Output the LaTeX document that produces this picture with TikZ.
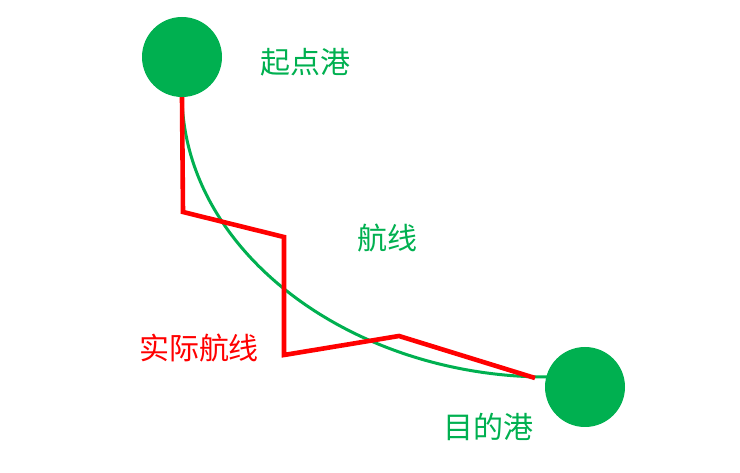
\documentclass[tikz,border=0pt]{standalone}
\usepackage{fontspec}
\usepackage{tikz}
\usetikzlibrary{arrows}
\newfontfamily\cjk{Noto Sans CJK SC}
\definecolor{port_green}{RGB}{0,176,80}
\definecolor{route_red}{RGB}{255,0,0}

\begin{document}
\begin{tikzpicture}[x=1pt,y=-1pt,line join=miter]
    \tikzstyle{port}=[circle, fill=port_green, draw=none, minimum size=80pt, inner sep=0pt]
    \tikzstyle{label}=[text=port_green, font=\cjk\fontsize{30}{34}\selectfont, inner sep=0pt]
    \tikzstyle{planned}=[draw=port_green, line width=3pt]
    \tikzstyle{actual}=[draw=route_red, line width=4.6pt]

    \useasboundingbox (0,0) rectangle (740,473);

    \node[port] (start) at (182,57)  {};
    \node[port] (end)   at (585,387) {};

    \node[label] (startlabel) at (305,62)  {起点港};
    \node[label] (routelabel) at (387,238) {航线};
    \node[label,text=route_red] (actuallabel) at (199,348) {实际航线};
    \node[label] (endlabel) at (488,427) {目的港};

    \coordinate (c1) at (183,212);
    \coordinate (c2) at (284,237);
    \coordinate (c3) at (284,355);
    \coordinate (c4) at (399,336);
    \coordinate (e1) at (535,378);
    \coordinate (e2) at (547,377);

%    planned route
    \path[planned] (start.south) .. controls (185,255) and (355,377) .. (e2);
%    actual route
    \path[actual] (start.south) -- (c1) -- (c2) -- (c3) -- (c4) -- (e1);
  \end{tikzpicture}
\end{document}
